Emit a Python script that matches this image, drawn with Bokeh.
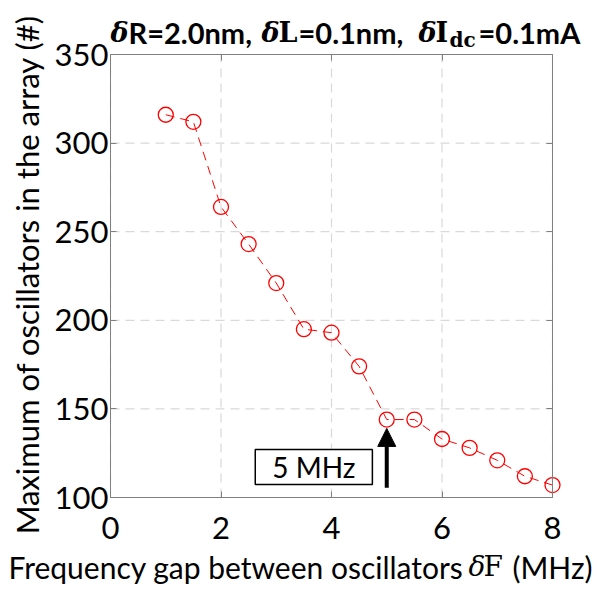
import math
from bokeh.plotting import figure
from bokeh.models import (Range1d, FixedTicker, LinearAxis, Label, Arrow, NormalHead,
                          BoxAnnotation)
from bokeh.embed import file_html
from bokeh.resources import INLINE

# ---- data ----
freq_gap = [1.0, 1.5, 2.0, 2.5, 3.0, 3.5, 4.0, 4.5, 5.0, 5.5, 6.0, 6.5, 7.0, 7.5, 8.0]
max_osc = [316, 312, 264, 243, 221, 195, 193, 174, 144, 144, 133, 128, 121, 112, 107]
x_ticks = [0, 2, 4, 6, 8]
y_ticks = [100, 150, 200, 250, 300, 350]
x_lim = (0, 8)
y_lim = (100, 350)
annot_text = "5 MHz"
annot_x = 5.0
y_label = "Maximum of oscillators in the array (#)"
x_label_parts = ["Frequency gap between oscillators", "δ", "F", "(MHz)"]

FONT = "Lato"
SERIF = "DejaVu Serif"

# ---- page layout (pixels) ----
W, H = 597, 591
BOX_L, BOX_R, BOX_T, BOX_B = 110, 552, 54, 497
sx_per = (BOX_R - BOX_L) / (x_lim[1] - x_lim[0])
sy_per = (BOX_B - BOX_T) / (y_lim[1] - y_lim[0])
xr = Range1d(x_lim[0] - BOX_L / sx_per, x_lim[1] + (W - BOX_R) / sx_per)
yr = Range1d(y_lim[0] - (H - BOX_B) / sy_per, y_lim[1] + BOX_T / sy_per)

p = figure(width=W, height=H, x_range=xr, y_range=yr, output_backend="svg",
           toolbar_location=None, min_border=0, x_axis_type=None, y_axis_type=None)
p.title.visible = False
p.outline_line_color = None
p.xgrid.visible = False
p.ygrid.visible = False

axis_color = "#808080"


def make_axis(ticks, loc, bounds, show_labels):
    ax = LinearAxis(ticker=FixedTicker(ticks=ticks), fixed_location=loc, bounds=bounds)
    ax.axis_line_color = axis_color
    ax.major_tick_line_color = axis_color
    ax.major_tick_in = 6
    ax.major_tick_out = 0
    ax.minor_tick_line_color = None
    ax.major_label_text_font = FONT
    ax.major_label_text_font_size = "31px"
    ax.major_label_text_color = "black" if show_labels else None
    return ax


# grid (drawn from the tick arrays, limited to the box)
grid_kw = dict(line_color="#d9d9d9", line_dash="9 6", line_width=1.2)
p.segment(x0=x_ticks, y0=[y_lim[0]] * len(x_ticks), x1=x_ticks,
          y1=[y_lim[1]] * len(x_ticks), **grid_kw)
p.segment(x0=[x_lim[0]] * len(y_ticks), y0=y_ticks, x1=[x_lim[1]] * len(y_ticks),
          y1=y_ticks, **grid_kw)

bx = make_axis(x_ticks, y_lim[0], x_lim, True)
bx.major_label_standoff = 19
p.add_layout(bx, "below")
ly = make_axis(y_ticks, x_lim[0], y_lim, True)
ly.major_label_standoff = 2
p.add_layout(ly, "left")
p.add_layout(make_axis(x_ticks, y_lim[1], x_lim, False), "above")
p.add_layout(make_axis(y_ticks, x_lim[1], y_lim, False), "right")

p.line(freq_gap, max_osc, line_color="#ff0000", line_width=1, line_dash="9 6")
p.scatter(freq_gap, max_osc, marker="circle", size=15, fill_color=None,
          line_color="#ff0000", line_width=1.3)

box = BoxAnnotation(left=2.62, right=4.74, bottom=107.3, top=127.1,
                    fill_color="white", fill_alpha=1.0, line_color="black",
                    line_alpha=1.0, line_width=1.5)
p.add_layout(box)
p.add_layout(Label(x=3.68, y=117.2, text=annot_text, text_align="center",
                   text_baseline="middle", text_font=FONT, text_font_size="28px",
                   text_color="black"))
p.add_layout(Arrow(end=NormalHead(size=18, fill_color="black", line_color="black"),
                   x_start=annot_x, y_start=105.5, x_end=annot_x, y_end=139,
                   line_width=4, line_color="black"))


def put(txt, px, py, font, style, size, angle=0.0, align="left", baseline="alphabetic"):
    p.add_layout(Label(x=px, y=H - py, x_units="screen", y_units="screen", text=txt,
                       angle=angle, text_align=align, text_baseline=baseline,
                       text_font=font, text_font_style=style, text_font_size=size,
                       text_color="black"))


# title
tb, sb = 32, 39
for txt, px, py, font, style, size in [
    ("δ", 110, tb, SERIF, "bold italic", "27px"),
    ("R=2.0nm,", 128, tb, FONT, "bold", "29px"),
    ("δ", 261, tb, SERIF, "bold italic", "27px"),
    ("L", 278, tb, SERIF, "bold", "27px"),
    ("=0.1nm,", 298, tb, FONT, "bold", "29px"),
    ("δ", 418, tb, SERIF, "bold italic", "27px"),
    ("I", 435, tb, SERIF, "bold", "27px"),
    ("dc", 449, sb, SERIF, "bold", "20px"),
    ("=0.1mA", 478, tb, FONT, "bold", "29px"),
]:
    put(txt, px, py, font, style, size)

# x label
xb = 566
for txt, px, font, style, size in zip(
        x_label_parts, [8, 468, 483, 512], [FONT, SERIF, SERIF, FONT],
        ["normal", "italic", "normal", "normal"], ["30px", "28px", "28px", "30px"]):
    put(txt, px, xb, font, style, size)

# y label (rotated)
put(y_label, 26, 274, FONT, "normal", "31px", angle=math.pi / 2, align="center",
    baseline="middle")

open("out.html", "w").write(file_html(p, INLINE))
